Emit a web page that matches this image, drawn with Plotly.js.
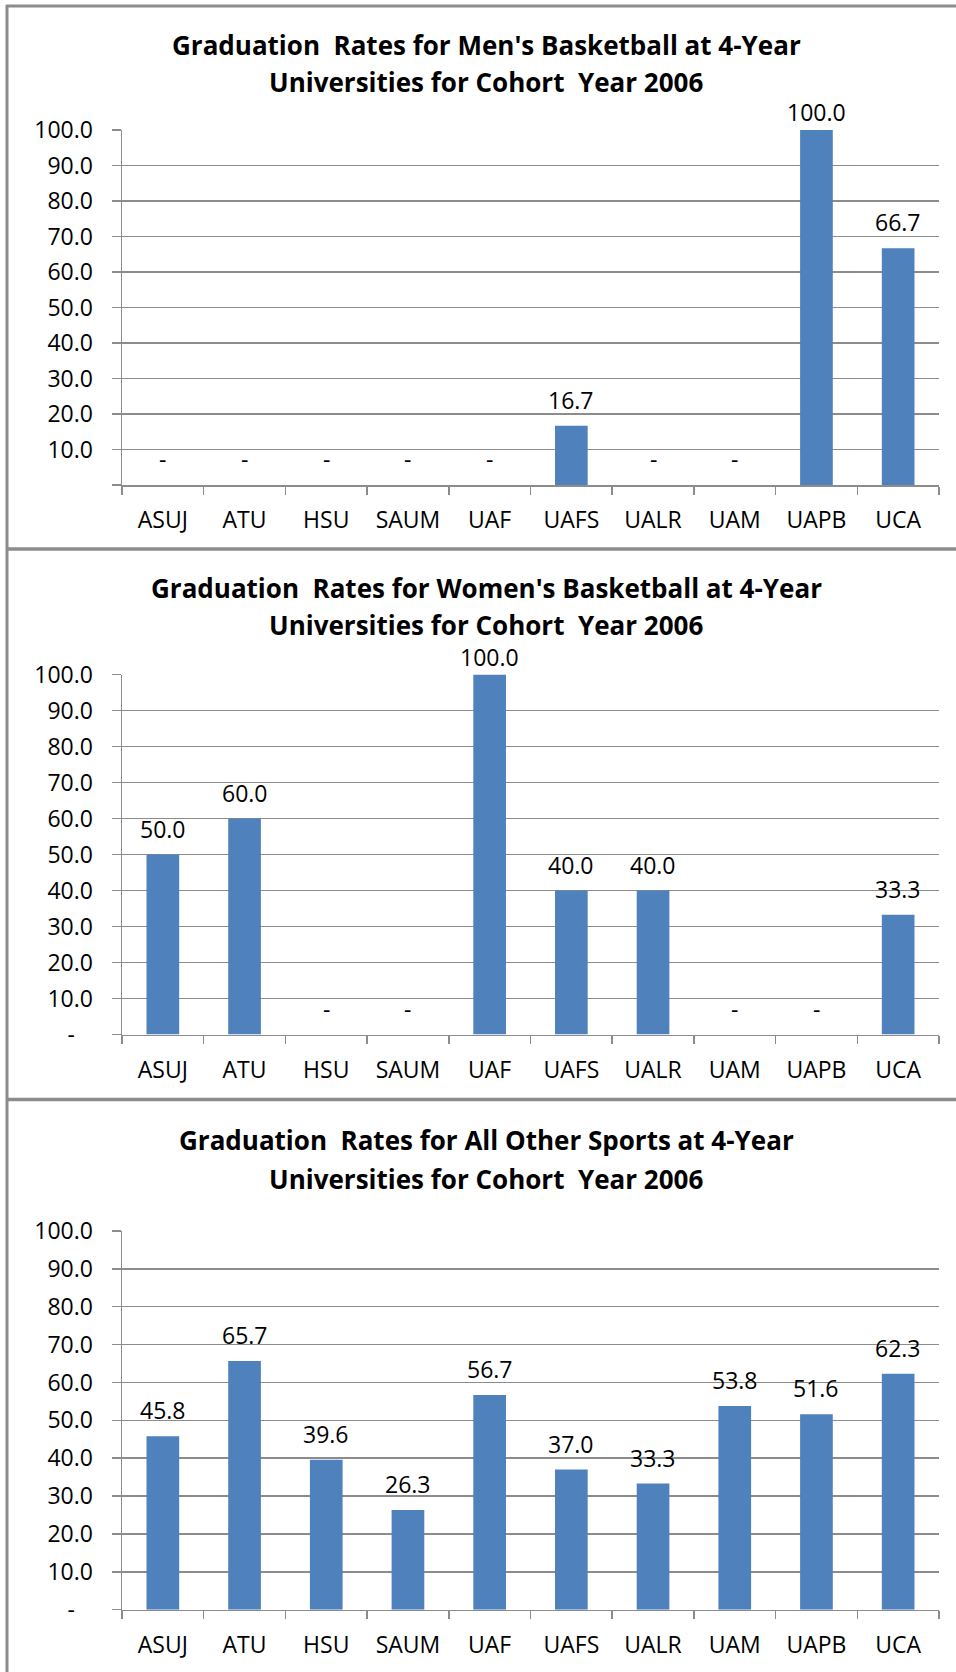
<!DOCTYPE html>
<html>
<head>
<meta charset="utf-8">
<script src="https://cdn.plot.ly/plotly-3.0.1.min.js"></script>
<style>
  html, body { margin: 0; padding: 0; background: #ffffff; }
  #chart { width: 956px; height: 1672px; }
</style>
</head>
<body>
<div id="chart"></div>
<script>
// ---- data ----
const universities = ["ASUJ", "ATU", "HSU", "SAUM", "UAF", "UAFS", "UALR", "UAM", "UAPB", "UCA"];
const mensBasketball = [0, 0, 0, 0, 0, 16.7, 0, 0, 100.0, 66.7];
const womensBasketball = [50.0, 60.0, 0, 0, 100.0, 40.0, 40.0, 0, 0, 33.3];
const allOtherSports = [45.8, 65.7, 39.6, 26.3, 56.7, 37.0, 33.3, 53.8, 51.6, 62.3];
const titlesLine1 = [
  "Graduation\u00A0 Rates for Men's Basketball at 4-Year",
  "Graduation\u00A0 Rates for Women's Basketball at 4-Year",
  "Graduation\u00A0 Rates for All Other Sports at 4-Year"
];
const titlesLine2 = "Universities for Cohort\u00A0 Year 2006";
const yTickVals = [0, 10, 20, 30, 40, 50, 60, 70, 80, 90, 100];
const yTickTextPanel1 = ["", "10.0", "20.0", "30.0", "40.0", "50.0", "60.0", "70.0", "80.0", "90.0", "100.0"];
const yTickTextPanel23 = ["-\u00A0\u00A0\u00A0", "10.0", "20.0", "30.0", "40.0", "50.0", "60.0", "70.0", "80.0", "90.0", "100.0"];

// ---- layout helpers (pixel -> paper) ----
const W = 956, H = 1672;
const px = v => v / W;
const py = v => 1 - v / H;

const FONT = "Open Sans, Liberation Sans, sans-serif";
const GRAY = "#8c8c8c";
const BAR = "#4F81BD";
const TICKSIZE = 23;

const series = [mensBasketball, womensBasketball, allOtherSports];
const yTexts = [yTickTextPanel1, yTickTextPanel23, yTickTextPanel23];
const plotTop = [130, 674.6, 1231];
const plotBottom = [485, 1034.6, 1609.7];
const titleY1 = [45.5, 588, 1140];
const titleY2 = [82.5, 625, 1179];

const traces = [];
const annotations = [];
const layout = {
  width: W, height: H,
  margin: {l: 0, r: 0, t: 0, b: 0},
  paper_bgcolor: "#ffffff",
  plot_bgcolor: "#ffffff",
  showlegend: false,
  hovermode: false,
  font: {family: FONT, size: TICKSIZE, color: "#000000"},
  shapes: [
    {type: "line", xref: "paper", yref: "paper", x0: px(6), x1: 1, y0: py(6), y1: py(6), line: {color: GRAY, width: 3}},
    {type: "line", xref: "paper", yref: "paper", x0: px(7), x1: px(7), y0: py(5), y1: 0, line: {color: GRAY, width: 3}},
    {type: "line", xref: "paper", yref: "paper", x0: px(6), x1: 1, y0: py(549), y1: py(549), line: {color: GRAY, width: 3.5}},
    {type: "line", xref: "paper", yref: "paper", x0: px(6), x1: 1, y0: py(1099.5), y1: py(1099.5), line: {color: GRAY, width: 3.5}}
  ],
  annotations: annotations
};

series.forEach((vals, i) => {
  const sfx = i === 0 ? "" : String(i + 1);
  const xa = "x" + sfx, ya = "y" + sfx;
  traces.push({
    type: "bar",
    x: universities,
    y: vals,
    xaxis: xa, yaxis: ya,
    width: 0.4,
    marker: {color: BAR, line: {width: 0}}
  });
  layout["xaxis" + sfx] = {
    domain: [px(122), px(939)],
    anchor: ya,
    type: "category",
    range: [-0.5, 9.5],
    showgrid: false,
    zeroline: false,
    showline: true,
    linecolor: GRAY,
    linewidth: 1.5,
    ticks: "outside",
    tickson: "boundaries",
    ticklen: 8,
    tickwidth: 1.5,
    tickcolor: GRAY,
    ticklabelstandoff: 14,
    tickfont: {family: FONT, size: TICKSIZE, color: "#000000"},
    fixedrange: true
  };
  layout["yaxis" + sfx] = {
    domain: [py(plotBottom[i]), py(plotTop[i])],
    anchor: xa,
    range: [0, 100],
    tickmode: "array",
    tickvals: yTickVals,
    ticktext: yTexts[i],
    showgrid: true,
    gridcolor: GRAY,
    gridwidth: 1.5,
    zeroline: false,
    showline: true,
    linecolor: GRAY,
    linewidth: 1.5,
    ticks: "outside",
    ticklen: 9,
    tickwidth: 1.5,
    tickcolor: GRAY,
    ticklabelstandoff: 14,
    tickfont: {family: FONT, size: TICKSIZE, color: "#000000"},
    fixedrange: true
  };
  // data labels
  universities.forEach((u, k) => {
    const v = vals[k];
    annotations.push({
      xref: xa, yref: ya,
      x: u, y: v,
      text: v === 0 ? "-" : v.toFixed(1),
      showarrow: false,
      xanchor: "center", yanchor: "bottom",
      yshift: v >= 100 ? 0 : 8,
      font: {family: FONT, size: TICKSIZE, color: "#000000"}
    });
  });
  // titles
  annotations.push({
    xref: "paper", yref: "paper", x: px(486), y: py(titleY1[i]),
    xanchor: "center", yanchor: "middle", showarrow: false,
    text: "<b>" + titlesLine1[i] + "</b>",
    font: {family: FONT, size: 26, color: "#000000"}
  });
  annotations.push({
    xref: "paper", yref: "paper", x: px(486), y: py(titleY2[i]),
    xanchor: "center", yanchor: "middle", showarrow: false,
    text: "<b>" + titlesLine2 + "</b>",
    font: {family: FONT, size: 26, color: "#000000"}
  });
});

Plotly.newPlot("chart", traces, layout, {staticPlot: true, displayModeBar: false});
</script>
</body>
</html>
